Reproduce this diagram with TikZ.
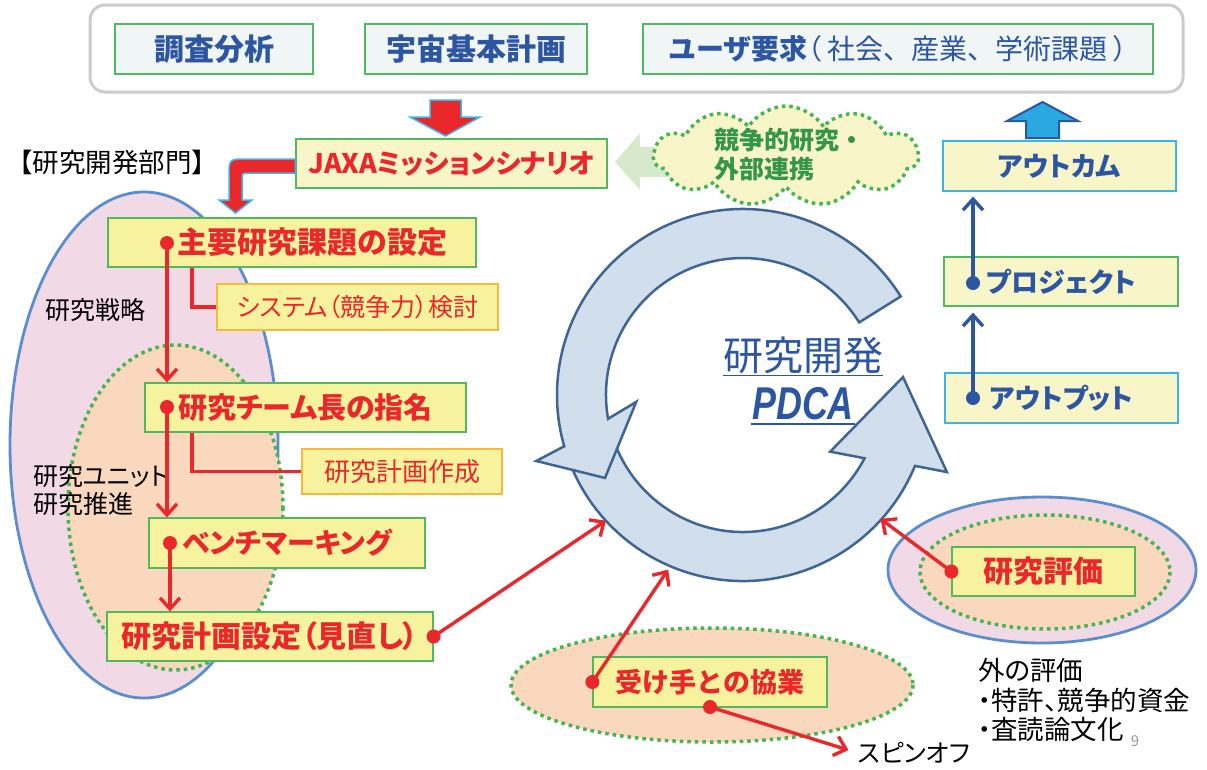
\documentclass[tikz,border=0pt]{standalone}
\usepackage{fontspec}
\setmainfont{Noto Sans CJK JP}
\newfontfamily\pf{Noto Sans CJK JP}[RawFeature=+palt]
\newfontfamily\lat{Liberation Sans}
\usetikzlibrary{arrows.meta,shapes.symbols,calc}
\definecolor{tblue}{RGB}{44,85,162}
\definecolor{tred}{RGB}{234,40,44}
\definecolor{gbord}{RGB}{80,185,95}
\definecolor{gdot}{RGB}{70,180,80}
\definecolor{gtext}{RGB}{52,150,70}
\definecolor{obord}{RGB}{245,185,60}
\definecolor{topfill}{RGB}{240,246,246}
\definecolor{yfill}{RGB}{246,242,158}
\definecolor{pyfill}{RGB}{248,246,200}
\definecolor{pinkfill}{RGB}{242,217,230}
\definecolor{ebord}{RGB}{90,142,204}
\definecolor{orfill}{RGB}{250,216,189}
\definecolor{cycfill}{RGB}{209,223,236}
\definecolor{cycbord}{RGB}{63,101,146}
\definecolor{lblue}{RGB}{60,180,230}
\definecolor{arrblue}{RGB}{42,168,224}
\definecolor{palegreen}{RGB}{214,234,203}
\newcommand\myfs[1]{\fontsize{#1}{#1}\selectfont}
\tikzset{
  topbox/.style={draw=gbord, fill=topfill, line width=1.2pt, inner sep=0pt, minimum height=50, text=tblue, font=\myfs{30}\bfseries},
  ybox/.style={draw=gbord, fill=yfill, line width=1.2pt, inner sep=0pt, text=tred, font=\pf\myfs{29}\bfseries},
  pbox/.style={draw=gbord, fill=pyfill, line width=1.2pt, inner sep=0pt},
  obox/.style={draw=obord, fill=yfill, line width=1.2pt, inner sep=0pt, text=tred, font=\pf\myfs{25}},
  rbox/.style={fill=pyfill, line width=1.2pt, inner sep=0pt, text=tblue, font=\pf\myfs{27}\bfseries},
  dotline/.style={draw=gdot, line width=3.5pt, dash pattern=on 3.5pt off 4pt},
  rline/.style={draw=tred, line width=3.4pt},
  rarr/.style={draw=tred, line width=3.4pt, -{Straight Barb[length=11pt,width=20pt]}},
  barr/.style={draw=tblue, line width=3.4pt, -{Straight Barb[length=11pt,width=20pt]}},
  cyc/.style={fill=cycfill, draw=cycbord, line width=2.5pt, line join=miter},
  lab/.style={inner sep=0pt, text=black, font=\myfs{25}},
}
\begin{document}
\begin{tikzpicture}[x=1pt,y=-1pt]
\useasboundingbox (0,0) rectangle (1207,769);
\fill[white] (0,0) rectangle (1207,769);
% top frame
\draw[draw=black!20, line width=3pt, rounded corners=15pt] (90,5) rectangle (1183,92);
\node[topbox, minimum width=198] (t1) at (214,49) {調査分析};
\node[topbox, minimum width=222] (t2) at (476,49) {宇宙基本計画};
\node[topbox, minimum width=510, font=\myfs{28}] (t3) at (898,49) {\bfseries ユーザ要求\mdseries{\pf（} 社会、産業、学術課題 {\pf ）}};
% red down arrow
\draw[fill=tred, draw=lblue, line width=1.5pt] (430,100) -- (461,100) -- (461,117) -- (480,117) -- (445.5,136) -- (410,117) -- (430,117) -- cycle;
% JAXA box
\node[pbox, minimum width=311, minimum height=49, text=tred, font=\pf\myfs{27}\bfseries] (jaxa) at (451.5,163.5) {JAXAミッションシナリオ};
% bent red arrow
\draw[fill=tred, draw=lblue, line width=1.5pt] (jaxa.west |- 0,159) -- (247,159) .. controls (229,159) .. (229,177) -- (229,200) -- (219,200) -- (235.5,213) -- (252,200) -- (242,200) -- (242,180) .. controls (242,173) .. (249,173) -- (jaxa.west |- 0,173) -- cycle;
\node[lab, anchor=west, font=\myfs{26.5}] (dept) at (6,162) {【研究開発部門】};
% green left arrow
\fill[palegreen] (615,162) -- (640,133) -- (640,147) -- (680,147) -- (680,177) -- (640,177) -- (640,190) -- cycle;
% cloud
\node[cloud, cloud puffs=11, cloud puff arc=115, aspect=2.65, minimum width=265, minimum height=100, dotline, fill=pyfill] (cloud) at (786,156) {};
\node[inner sep=0pt, text=gtext, font=\myfs{25}\bfseries, align=left, anchor=west] (cloudtxt) at (714,155) {競争的研究・\\[4pt]外部連携};
% left ellipses
\draw[fill=pinkfill, draw=ebord, line width=2.8pt] (144,445) ellipse [x radius=134, y radius=253];
\draw[fill=orfill, dotline] (175.5,507.5) ellipse [x radius=107.5, y radius=162.5];
\node[lab] (strat) at (95,310) {研究戦略};
\node[lab, anchor=west, align=left, font=\pf\myfs{25}] (unit) at (33,490) {研究ユニット\\[3pt]研究推進};
% left boxes
\node[ybox, minimum width=368, minimum height=49] (b1) at (292,242.5) {};
\node[inner sep=0pt, text=tred, font=\myfs{30}\bfseries] (b1t) at (312,242.5) {主要研究課題の設定};
\node[obox, minimum width=281, minimum height=46] (s1) at (357.5,307) {システム（競争力）検討};
\node[ybox, minimum width=321, minimum height=49] (b2) at (305.5,407.5) {研究チーム長の指名};
\node[obox, minimum width=200, minimum height=45, font=\myfs{26}] (r1) at (402,471.5) {研究計画作成};
\node[ybox, minimum width=276, minimum height=50, font=\pf\myfs{28}\bfseries] (b3) at (287,543) {ベンチマーキング};
\node[ybox, minimum width=326, minimum height=49, font=\pf\myfs{30}\bfseries] (b4) at (270,636.5) {研究計画設定（見直し）};
% left connectors
\coordinate (d1) at (167,243);
\coordinate (d2) at (167,407);
\coordinate (d3) at (170,543);
\draw[rline] (b1.south -| 192,0) |- (s1.west);
\draw[rline] (b2.south -| 192,0) |- (r1.west);
\draw[rarr] (d1) -- (d1 |- b2.north);
\draw[rarr] (d2) -- (d2 |- b3.north);
\draw[rarr] (d3) -- (d3 |- b4.north);
\fill[tred] (d1) circle (7) (d2) circle (7) (d3) circle (7) (b4.east) circle (7);
% cycle
\begin{scope}[shift={(743,395)}, yscale=-1]
\draw[cyc] (200:186) arc[start angle=200, end angle=337.6, radius=186] -- (339.3:218) -- (6.4:161) -- (327:104) -- (332.5:137) arc[start angle=332.5, end angle=200, radius=137] -- cycle;
\draw[cyc] (32:186) arc[start angle=32, end angle=196, radius=186] -- (197.7:217) -- (211:161) -- (183.7:107) -- (190:137) arc[start angle=190, end angle=32, radius=137] -- cycle;
\coordinate (c1) at (222.5:186);
\coordinate (c2) at (246.8:190);
\coordinate (c3) at (318:185);
\end{scope}
\node[inner sep=0pt, text=tblue, font=\myfs{40}] (rd) at (803,356) {\underline{研究開発}};
\node[inner sep=0pt, text=tblue, font=\lat\myfs{46}\bfseries\itshape, xscale=0.78] (pdca) at (803,404) {PDCA};
\draw[tblue, line width=2pt] (751,424) -- (855,424);
% right column
\draw[fill=arrblue, draw=tblue, line width=2pt] (1026,138) -- (1059,138) -- (1059,121) -- (1078,121) -- (1042.5,102) -- (1007,121) -- (1026,121) -- cycle;
\node[rbox, draw=lblue, minimum width=233, minimum height=50] (outc) at (1059.5,166) {アウトカム};
\node[rbox, draw=gbord, minimum width=234, minimum height=49] (proj) at (1061,281.5) {プロジェクト};
\node[rbox, draw=lblue, minimum width=233, minimum height=50] (outp) at (1061.5,398) {アウトプット};
\coordinate (d5) at (973,398);
\coordinate (d6) at (973,283);
\draw[barr, shorten >=6pt] (d5) -- (d5 |- proj.south);
\draw[barr, shorten >=5pt] (d6) -- (d6 |- outc.south);
\fill[tblue] (d5) circle (7) (d6) circle (7);
% right ellipse
\draw[fill=pinkfill, draw=ebord, line width=2.8pt] (1042,570) ellipse [x radius=154, y radius=73];
\draw[fill=orfill, dotline] (1045,572) ellipse [x radius=125, y radius=57];
\node[ybox, minimum width=183, minimum height=49, font=\myfs{30}\bfseries] (eval) at (1043.5,571.5) {研究評価};
% bottom ellipse
\draw[fill=orfill, dotline] (712,685) ellipse [x radius=201, y radius=57];
\node[ybox, minimum width=234, minimum height=50, font=\myfs{27}\bfseries] (uke) at (710,682) {受け手との協業};
\node[lab, anchor=west, font=\pf\myfs{25}] (spin) at (858,753) {スピンオフ};
% red connectors to cycle
\coordinate (d8) at (uke.west);
\coordinate (d9) at (710,707);
\draw[rarr] (b4.east) -- (c1);
\draw[rarr] (d8) -- (c2);
\draw[rarr] (eval.west) -- (c3);
\draw[rarr, shorten >=10pt] (d9) -- (spin.west);
\fill[tred] (d8) circle (7) (d9) circle (7) (eval.west) circle (7);
% external evaluation
\node[lab, anchor=west, align=left, font=\pf\myfs{26.5}] (ext) at (978,700) {外の評価\\[3pt]・特許、競争的資金\\[3pt]・査読論文化};
\node[inner sep=0pt, text=black!40, font=\myfs{15}] (pg) at (1135,741) {9};
\end{tikzpicture}
\end{document}
